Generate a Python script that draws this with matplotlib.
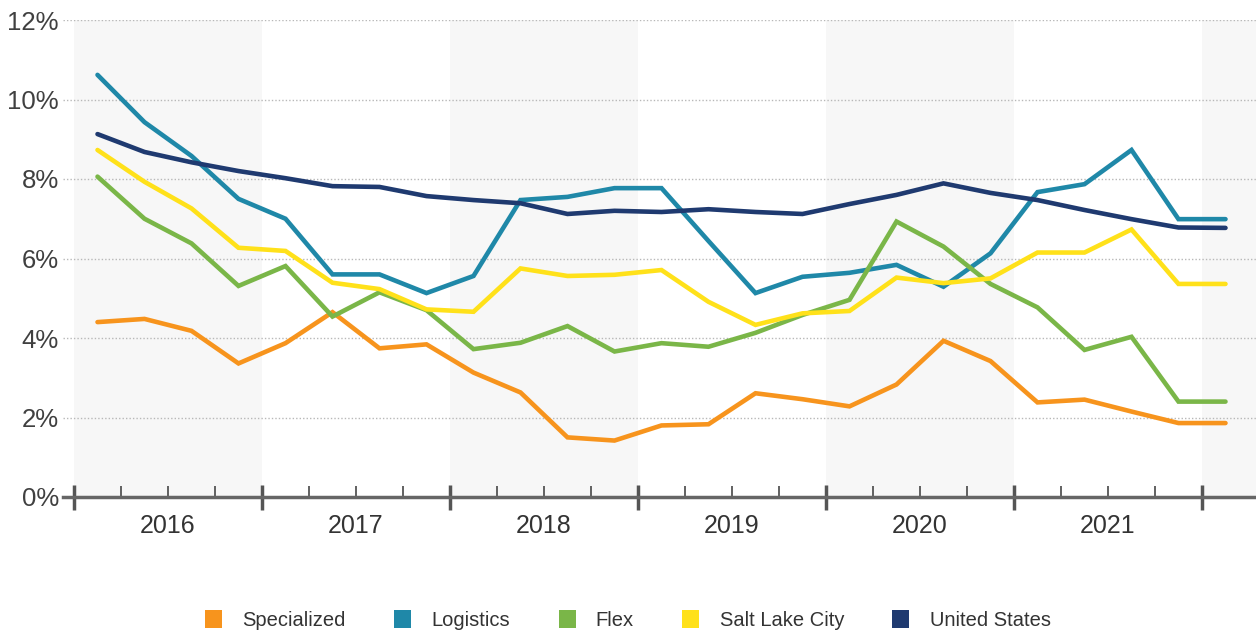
import numpy as np
import matplotlib
matplotlib.use("Agg")
import matplotlib.pyplot as plt
from matplotlib.patches import Patch
from matplotlib.ticker import FuncFormatter, FixedLocator

plt.rcParams['font.family'] = ['Liberation Sans', 'DejaVu Sans']

# quarterly vacancy rates, 2016 Q1 .. 2022 Q1
years = ['2016', '2017', '2018', '2019', '2020', '2021']
specialized = [4.40, 4.48, 4.18, 3.36, 3.87, 4.65, 3.74, 3.84,
               3.13, 2.63, 1.50, 1.42, 1.80, 1.83, 2.61, 2.46,
               2.28, 2.83, 3.93, 3.42, 2.38, 2.45, 2.15, 1.86, 1.86]
logistics = [10.62, 9.43, 8.58, 7.50, 7.00, 5.60, 5.60, 5.13,
             5.56, 7.47, 7.55, 7.77, 7.77, 6.44, 5.13, 5.54,
             5.64, 5.84, 5.29, 6.13, 7.67, 7.87, 8.73, 6.99, 6.99]
flex = [8.06, 7.00, 6.38, 5.31, 5.81, 4.54, 5.15, 4.70,
        3.72, 3.88, 4.30, 3.66, 3.87, 3.78, 4.13, 4.58,
        4.96, 6.93, 6.30, 5.36, 4.77, 3.70, 4.03, 2.40, 2.40]
salt_lake = [8.73, 7.93, 7.26, 6.27, 6.19, 5.39, 5.23, 4.72,
             4.66, 5.75, 5.56, 5.59, 5.71, 4.91, 4.33, 4.62,
             4.68, 5.52, 5.38, 5.50, 6.15, 6.15, 6.73, 5.36, 5.36]
united_states = [9.13, 8.68, 8.42, 8.20, 8.02, 7.82, 7.80, 7.57,
                 7.47, 7.39, 7.12, 7.20, 7.17, 7.24, 7.17, 7.12,
                 7.37, 7.60, 7.89, 7.65, 7.47, 7.22, 6.99, 6.78, 6.77]

names = ['Specialized', 'Logistics', 'Flex', 'Salt Lake City', 'United States']
series = [specialized, logistics, flex, salt_lake, united_states]
colors = ['#F7941D', '#1F88A8', '#7AB648', '#FFE11A', '#1F3A70']

fig = plt.figure(figsize=(12.56, 6.34), dpi=100)
W, H = 1256, 634
ax = fig.add_axes([63 / W, 1 - 497 / H, 1 - 63 / W, (497 - 20) / H])

x = np.arange(len(specialized))
ax.set_xlim(-0.5 - 11 / 47, -0.5 + (W - 74) / 47)
ax.set_ylim(0, 12)

# alternating year shading
for i in range(0, 8, 2):
    ax.axvspan(-0.5 + 4 * i, 3.5 + 4 * i, color='#f7f7f7', lw=0, zorder=0)

ax.yaxis.grid(True, linestyle=(0, (1, 1.5)), color='#b8b8b8', lw=1)
ax.set_axisbelow(True)

for vals, c in zip(series, colors):
    ax.plot(x, vals, color=c, lw=3.3, solid_capstyle='round', solid_joinstyle='miter', zorder=3)

for s in ['top', 'right', 'left']:
    ax.spines[s].set_visible(False)
ax.spines['bottom'].set_color('#666666')
ax.spines['bottom'].set_linewidth(2.5)

ax.set_yticks(np.arange(0, 13, 2))
ax.yaxis.set_major_formatter(FuncFormatter(lambda v, p: f'{v:.0f}%'))
ax.tick_params(axis='y', length=0, pad=3, labelsize=18.5, labelcolor='#404040')

ax.set_xticks(np.arange(-0.5, 25, 4))
ax.xaxis.set_minor_locator(FixedLocator([q - 0.5 for q in range(25) if q % 4 != 0]))
ax.tick_params(axis='x', which='major', direction='inout', length=18, width=2.5,
               color='#555555', labelbottom=False)
ax.tick_params(axis='x', which='minor', direction='in', length=8, width=1.3, color='#555555')

for i, yr in enumerate(years):
    ax.text(1.5 + 4 * i, -0.06, yr, transform=ax.get_xaxis_transform(),
            ha='center', va='center', fontsize=18, color='#333333')

handles = [Patch(facecolor=c, edgecolor='none') for c in colors]
fig.legend(handles, names, loc='center', bbox_to_anchor=(0.5, 1 - 620 / H), ncol=5,
           frameon=False, fontsize=14.5, handlelength=0.85, handleheight=1.0,
           handletextpad=1.0, columnspacing=2.4, labelcolor='#333333')

fig.savefig('out.png', dpi=100)
